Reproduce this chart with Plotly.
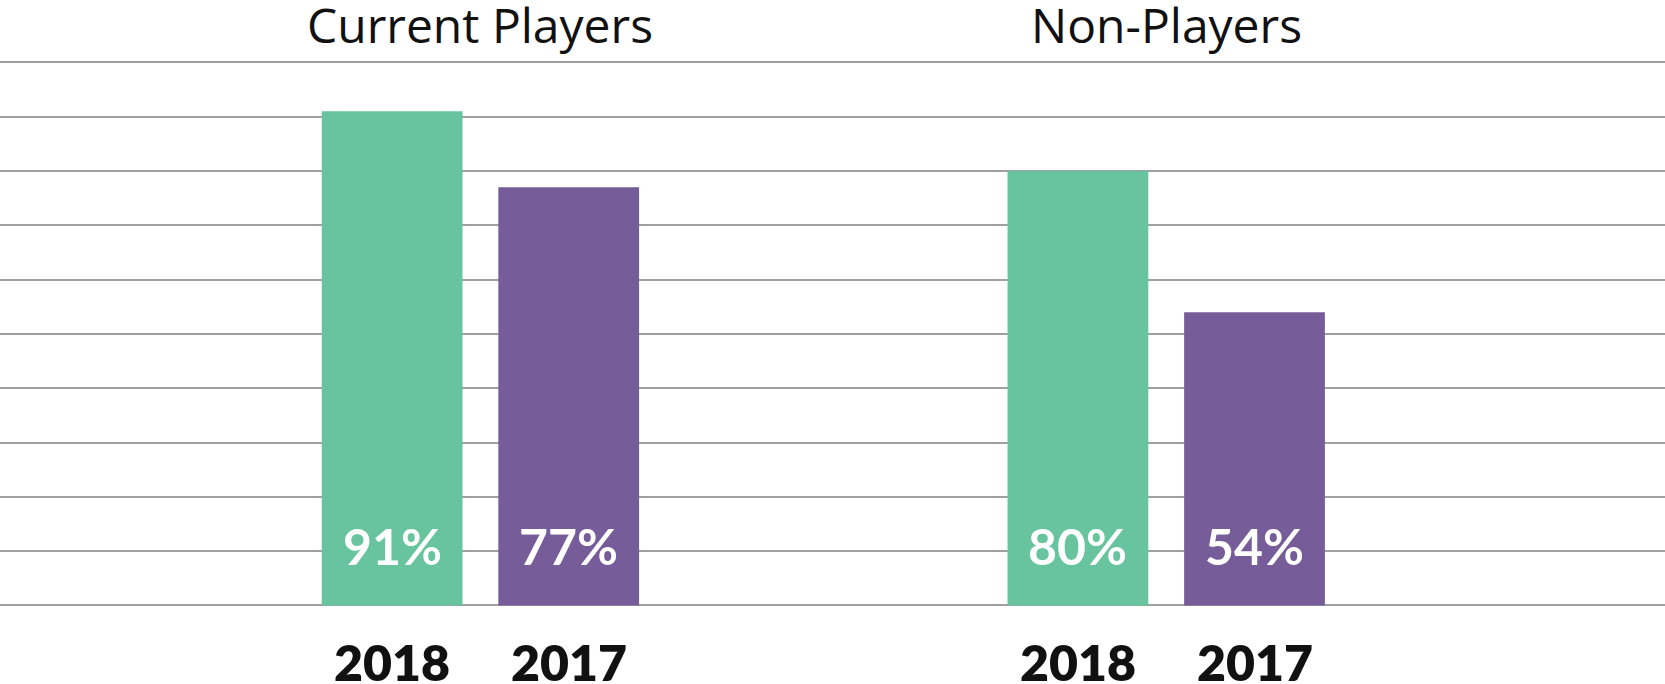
import plotly.graph_objects as go

groups = ["Current Players", "Non-Players"]
years = ["2018", "2017"]
values_2018 = [91, 80]
values_2017 = [77, 54]
colors = {"2018": "#67C49E", "2017": "#765C99"}
grid_vals = list(range(0, 101, 10))

BARGAP = 0.485
GROUPGAP = 0.203

fig = go.Figure()
series = {"2018": values_2018, "2017": values_2017}
for yr in years:
    fig.add_trace(go.Bar(
        x=groups, y=series[yr], name=yr,
        marker=dict(color=colors[yr], line=dict(width=0)),
        hoverinfo="skip",
    ))

slot = (1 - BARGAP) / len(years)
annotations = []
for gi, g in enumerate(groups):
    annotations.append(dict(
        x=gi, y=107.0, xref="x", yref="y", text=g, showarrow=False,
        xanchor="center", yanchor="middle",
        font=dict(family="Open Sans", size=48, color="#111111"),
    ))
    for si, yr in enumerate(years):
        xc = gi + (si - (len(years) - 1) / 2) * slot
        annotations.append(dict(
            x=xc, y=11.0, xref="x", yref="y", text=f"{series[yr][gi]}%",
            showarrow=False, xanchor="center", yanchor="middle",
            font=dict(family="Lato", size=50, color="white", weight=700),
        ))
        annotations.append(dict(
            x=xc, y=-10.4, xref="x", yref="y", text=yr,
            showarrow=False, xanchor="center", yanchor="middle",
            font=dict(family="Lato", size=50, color="#111111", weight=800),
        ))

fig.update_layout(
    width=1665, height=684,
    margin=dict(l=0, r=0, t=0, b=0),
    paper_bgcolor="white", plot_bgcolor="white",
    barmode="group", bargap=BARGAP, bargroupgap=GROUPGAP,
    showlegend=False,
    xaxis=dict(type="category", range=[-0.7005, 1.7273], showticklabels=False,
               showgrid=False, zeroline=False, showline=False, fixedrange=True),
    yaxis=dict(range=[-14.46, 111.5], tickvals=grid_vals, showticklabels=False,
               showgrid=True, gridcolor="#a0a0a0", gridwidth=2,
               zeroline=False, showline=False, fixedrange=True),
    annotations=annotations,
)

fig.write_html("out.html", config={"displayModeBar": False})
